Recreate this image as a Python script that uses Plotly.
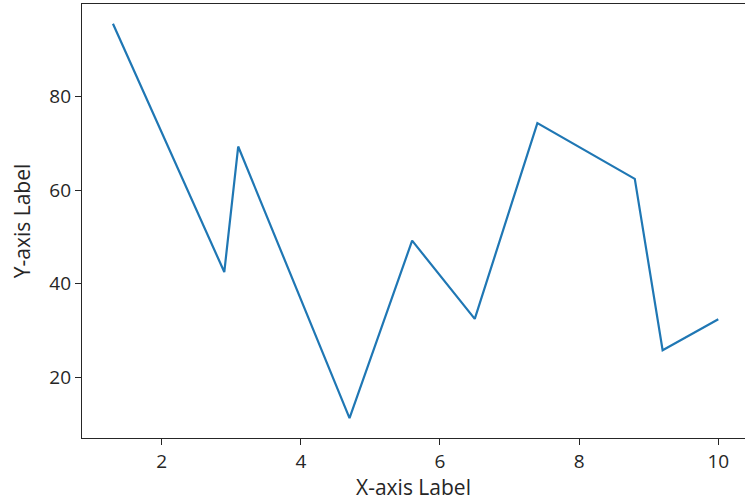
import plotly.graph_objects as go

x_values = [1.3, 2.9, 3.1, 4.7, 5.6, 6.5, 7.4, 8.8, 9.2, 10.0]
y_values = [95.5, 42.5, 69.3, 11.3, 49.2, 32.5, 74.3, 62.4, 25.8, 32.4]
x_ticks = [2, 4, 6, 8, 10]
y_ticks = [20, 40, 60, 80]

font_family = "Open Sans"
axis_color = "#262626"

fig = go.Figure(
    go.Scatter(
        x=x_values,
        y=y_values,
        mode="lines",
        line=dict(color="#1f77b4", width=2.2),
    )
)

fig.update_layout(
    width=745,
    height=501,
    margin=dict(l=82, r=0, t=4, b=63),
    paper_bgcolor="white",
    plot_bgcolor="white",
    showlegend=False,
    font=dict(family=font_family, size=19, color="#262626"),
)

fig.update_xaxes(
    range=[0.855, 10.384],
    tickvals=x_ticks,
    ticktext=[str(v) for v in x_ticks],
    ticks="outside",
    ticklen=6,
    tickwidth=1.2,
    tickcolor=axis_color,
    showline=True,
    linecolor=axis_color,
    linewidth=1.3,
    mirror=True,
    showgrid=False,
    zeroline=False,
    automargin=False,
    title=dict(text="X-axis Label", font=dict(size=21), standoff=5),
)

fig.update_yaxes(
    range=[7.06, 99.73],
    tickvals=y_ticks,
    ticktext=[str(v) for v in y_ticks],
    ticks="outside",
    ticklen=6,
    tickwidth=1.2,
    tickcolor=axis_color,
    showline=True,
    linecolor=axis_color,
    linewidth=1.3,
    showgrid=False,
    zeroline=False,
    automargin=False,
    title=dict(text="Y-axis Label", font=dict(size=21), standoff=12),
)

fig.write_html(
    "out.html",
    config={"displayModeBar": False},
    post_script="document.body.style.margin='0';document.body.style.padding='0';",
)
